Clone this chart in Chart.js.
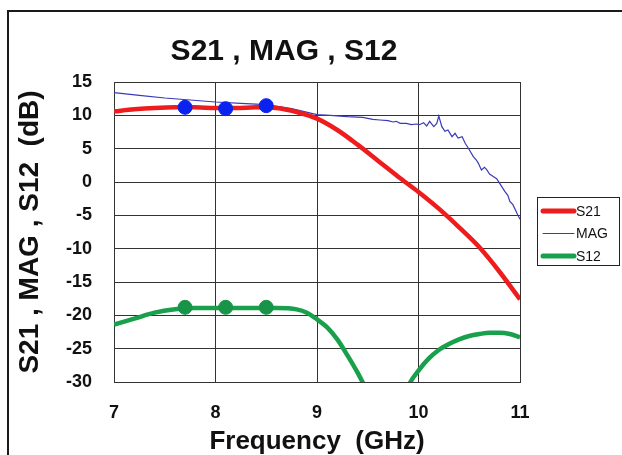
<!DOCTYPE html>
<html>
<head>
<meta charset="utf-8">
<script src="https://cdn.jsdelivr.net/npm/chart.js@4.4.1/dist/chart.umd.min.js"></script>
<style>
  html, body { margin: 0; padding: 0; background: #fff; }
  #wrap { position: relative; width: 622px; height: 455px; }
</style>
</head>
<body>
<div id="wrap"><canvas id="chart" width="622" height="455"></canvas></div>
<script>
// Données (fréquence en GHz, niveaux en dB)
const s21Freq = [7.0, 7.2, 7.4, 7.6, 7.8, 8.0, 8.2, 8.4, 8.6, 8.8, 9.0, 9.2, 9.4, 9.6, 9.8, 10.0, 10.2, 10.4, 10.6, 10.8, 11.0];
const s21Db   = [10.6, 10.9, 11.1, 11.2, 11.2, 11.1, 11.1, 11.2, 11.1, 10.5, 9.5, 7.8, 5.6, 3.2, 0.8, -1.5, -4.0, -6.8, -9.8, -13.5, -17.6];

const magFreq = [7.0, 7.25, 7.5, 7.75, 8.0, 8.25, 8.5, 8.75, 9.0, 9.13, 9.3, 9.45, 9.55, 9.62, 9.7, 9.75, 9.78, 9.82, 9.88, 9.93, 9.98,
                 10.01, 10.05, 10.08, 10.11, 10.15, 10.18, 10.2, 10.23, 10.26, 10.29, 10.33, 10.36, 10.39, 10.43, 10.46, 10.49,
                 10.54, 10.57, 10.59, 10.62, 10.65, 10.67, 10.7, 10.74, 10.77, 10.8, 10.85, 10.88, 10.9, 10.93, 10.97, 11.0];
const magDb   = [13.4, 13.0, 12.6, 12.3, 12.0, 11.8, 11.6, 11.0, 10.1, 10.0, 9.8, 9.7, 9.4, 9.3, 9.2, 9.0, 9.1, 8.8, 8.8, 8.6, 8.7,
                 8.6, 8.9, 8.4, 9.1, 8.3, 8.8, 9.9, 8.3, 7.6, 7.8, 6.8, 7.3, 6.6, 6.8, 5.8, 5.1,
                 3.8, 3.3, 2.8, 1.8, 2.2, 1.9, 1.2, 0.8, 0.5, -0.2, -1.4, -2.0, -2.9, -3.4, -4.7, -5.6];

const s12Freq = [7.0, 7.2, 7.4, 7.6, 7.8, 8.0, 8.2, 8.4, 8.6, 8.8, 8.9, 9.0, 9.1, 9.2, 9.3, 9.4, 9.5, 9.6, 9.7, 9.8, 9.9,
                 10.0, 10.1, 10.2, 10.3, 10.4, 10.5, 10.6, 10.7, 10.8, 10.9, 11.0];
const s12Db   = [-21.4, -20.5, -19.6, -19.1, -18.9, -18.9, -18.9, -18.9, -18.9, -19.1, -19.6, -20.6, -21.8, -23.6, -26.0, -28.6, -31.6, -35, -38, -35, -30.6,
                 -28.3, -26.5, -25.2, -24.3, -23.6, -23.1, -22.8, -22.6, -22.6, -22.8, -23.3];

// points marqués
const markFreq  = [7.7, 8.1, 8.5];
const markS21Db = [11.2, 11.0, 11.45];
const markS12Db = [-18.8, -18.8, -18.8];

const xTicks = [7, 8, 9, 10, 11];
const yMin = -30, yMax = 15, yStep = 5;

const legendItems = [
    { label: 'S21', color: '#ee1c1c', width: 5 },
    { label: 'MAG', color: '#3a3ab8', width: 1 },
    { label: 'S12', color: '#19a04c', width: 5 }
];

const toPoints = (xs, ys) => xs.map((x, i) => ({ x: x, y: ys[i] }));

const FONT = '"Liberation Sans", Arial, sans-serif';

// Cadre, titre et légende dessinés à la main
const decorPlugin = {
    id: 'decor',
    beforeDraw(chart) {
        const ctx = chart.ctx;
        ctx.save();
        ctx.fillStyle = '#fff';
        ctx.fillRect(0, 0, chart.width, chart.height);
        ctx.strokeStyle = '#1a1a1a';
        ctx.lineWidth = 2;
        ctx.beginPath();
        ctx.moveTo(8, chart.height);
        ctx.lineTo(8, 11);
        ctx.lineTo(chart.width, 11);
        ctx.stroke();
        ctx.restore();
    },
    afterDraw(chart) {
        const ctx = chart.ctx;
        ctx.save();
        // titre
        ctx.fillStyle = '#111';
        ctx.font = 'bold 30px ' + FONT;
        ctx.textAlign = 'center';
        ctx.textBaseline = 'middle';
        ctx.fillText('S21 , MAG , S12', 284, 52);

        // légende
        ctx.fillStyle = '#fff';
        ctx.fillRect(537, 197, 83, 69);
        ctx.strokeStyle = '#222';
        ctx.lineWidth = 1;
        ctx.strokeRect(537.5, 197.5, 82, 68);
        ctx.font = '14px "Liberation Sans Narrow", ' + FONT;
        ctx.textAlign = 'left';
        legendItems.forEach((item, i) => {
            const y = 211 + i * 22.5;
            ctx.strokeStyle = item.color;
            ctx.lineWidth = item.width;
            ctx.lineCap = 'round';
            ctx.beginPath();
            ctx.moveTo(543, y);
            ctx.lineTo(574, y);
            ctx.stroke();
            ctx.fillStyle = '#111';
            ctx.fillText(item.label, 576, y + 1);
        });
        ctx.restore();
    }
};

const tickFont = { family: FONT, size: 18, weight: 'bold' };

new Chart(document.getElementById('chart'), {
    type: 'scatter',
    data: {
        datasets: [
            {
                label: 'S21 pts',
                data: toPoints(markFreq, markS21Db),
                showLine: false,
                pointRadius: 7,
                pointBackgroundColor: '#0a22f0',
                pointBorderColor: '#0a22f0',
                order: 0
            },
            {
                label: 'S12 pts',
                data: toPoints(markFreq, markS12Db),
                showLine: false,
                pointRadius: 7,
                pointBackgroundColor: '#179447',
                pointBorderColor: '#179447',
                order: 0
            },
            {
                label: 'S21',
                data: toPoints(s21Freq, s21Db),
                showLine: true,
                borderColor: '#ee1c1c',
                borderWidth: 4.5,
                pointRadius: 0,
                cubicInterpolationMode: 'monotone',
                order: 1
            },
            {
                label: 'S12',
                data: toPoints(s12Freq, s12Db),
                showLine: true,
                borderColor: '#19a04c',
                borderWidth: 4.5,
                pointRadius: 0,
                cubicInterpolationMode: 'monotone',
                order: 1
            },
            {
                label: 'MAG',
                data: toPoints(magFreq, magDb),
                showLine: true,
                borderColor: '#3a3ab8',
                borderWidth: 1.2,
                pointRadius: 0,
                tension: 0,
                order: 2
            }
        ]
    },
    options: {
        responsive: false,
        animation: false,
        layout: { padding: { left: 8, right: 102, top: 82, bottom: 0 } },
        plugins: {
            legend: { display: false },
            title: { display: false },
            tooltip: { enabled: false }
        },
        scales: {
            x: {
                type: 'linear',
                min: 7,
                max: 11,
                afterBuildTicks: (scale) => { scale.ticks = xTicks.map(v => ({ value: v })); },
                afterFit: (scale) => { scale.height = 73; },
                grid: { color: '#333', lineWidth: 1, drawTicks: false },
                border: { color: '#333', width: 1 },
                ticks: { color: '#111', font: tickFont, padding: 20, maxRotation: 0 },
                title: {
                    display: true,
                    text: 'Frequency  (GHz)',
                    color: '#111',
                    font: { family: FONT, size: 26, weight: 'bold' },
                    padding: { top: 0, bottom: -2 }
                }
            },
            y: {
                min: yMin,
                max: yMax,
                afterFit: (scale) => { scale.width = 106; },
                grid: { color: '#333', lineWidth: 1, drawTicks: false },
                border: { color: '#333', width: 1 },
                ticks: { stepSize: yStep, color: '#111', font: tickFont, padding: 22 },
                title: {
                    display: true,
                    text: 'S21 , MAG , S12  (dB)',
                    color: '#111',
                    font: { family: FONT, size: 28, weight: 'bold' },
                    padding: { top: 5, bottom: 0 }
                }
            }
        }
    },
    plugins: [decorPlugin]
});
</script>
</body>
</html>
